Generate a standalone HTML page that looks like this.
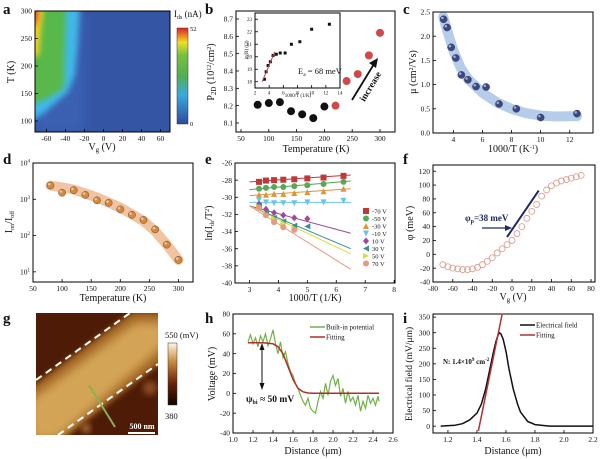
<!DOCTYPE html>
<html><head><meta charset="utf-8"><style>
html,body{margin:0;padding:0;background:#fff;}
svg{display:block;font-family:"Liberation Serif",serif;}
</style></head><body>
<svg id="fig" width="600" height="459" viewBox="0 0 600 459" xmlns="http://www.w3.org/2000/svg">
<defs>
<filter id="blur3" x="-20%" y="-20%" width="140%" height="140%"><feGaussianBlur stdDeviation="3"/></filter>
<filter id="blur5" x="-20%" y="-20%" width="140%" height="140%"><feGaussianBlur stdDeviation="5"/></filter>
<linearGradient id="jet" x1="0" y1="1" x2="0" y2="0">
<stop offset="0" stop-color="#2c4aa0"/><stop offset="0.3" stop-color="#3aa8e0"/><stop offset="0.5" stop-color="#50b050"/><stop offset="0.72" stop-color="#78c040"/><stop offset="0.85" stop-color="#f0e020"/><stop offset="1" stop-color="#e02020"/>
</linearGradient>
<linearGradient id="copper" x1="0" y1="1" x2="0" y2="0">
<stop offset="0" stop-color="#100400"/><stop offset="0.35" stop-color="#6a2008"/><stop offset="0.7" stop-color="#c88a40"/><stop offset="1" stop-color="#fff8e0"/>
</linearGradient>
<clipPath id="clipA"><rect x="35" y="11" width="135" height="121"/></clipPath>
<clipPath id="clipG"><rect x="36" y="313" width="122" height="122"/></clipPath>
</defs>
</svg>
<script>
// ---- data ----
const bTemp=[80,100,120,140,160,180,200];
const bP=[8.205,8.215,8.22,8.168,8.15,8.128,8.195];
const bTempHi=[220,240,260,280,300];
const bPHi=[8.2,8.342,8.382,8.49,8.62];
const insetX=[3.33,3.57,3.85,4.17,4.55,5,5.56,6.25,7.14,8.33,10,12.5];
const insetLnR=[18.2,18.8,19.3,19.6,20.1,20.2,20.3,20.3,21,21.2,22.2,22.6];
const insetFitX=[3,4.8];
const insetFitY=[18.0,20.4];
const cX=[3.33,3.57,3.85,4.17,4.55,5,5.56,6.25,7.14,8.33,10,12.5];
const cMu=[2.35,2.18,1.77,1.55,1.2,1.1,0.96,0.95,0.6,0.5,0.32,0.4];
const cFitX=[3.3,3.6,4,4.5,5,6,7,8,9,10,11,12.5];
const cFitY=[2.4,2.1,1.7,1.35,1.12,0.83,0.63,0.5,0.41,0.36,0.34,0.35];
const dTemp=[80,100,120,140,160,180,200,220,240,260,280,300];
const dLogRatio=[3.38,3.18,3.25,3.12,2.97,2.9,2.72,2.57,2.43,2.17,1.75,1.33];
const dFitT=[80,120,160,200,240,260,280,300];
const dFitLog=[3.38,3.27,3.05,2.77,2.4,2.12,1.75,1.33];
const eX=[3.33,3.57,3.85,4.17,4.55,5,5.56,6.25];
const eLabels=['-70 V','-50 V','-30 V','-10 V','10 V','30 V','50 V','70 V'];
const eY=[
[-28.2,-28.05,-28.0,-27.95,-27.9,-27.8,-27.7,-27.5],
[-29,-28.9,-28.8,-28.8,-28.7,-28.6,-28.45,-28.2],
[-29.7,-29.7,-29.6,-29.6,-29.5,-29.4,-29.3,-29.0],
[-30.3,-30.6,-30.7,-30.7,-30.7,-30.6,-30.6,-30.4],
[-30.8,-31.4,-31.8,-32.1,-32.4,-32.5],
[-31,-31.8,-32.4,-32.8,-33.3,-33.4],
[-31.1,-32,-32.6,-33.2,-33.6],
[-31.2,-32.1,-32.9,-33.5,-33.8]];
const eFitStart=[-28.2,-29.1,-29.8,-30.6,-31,-31,-31,-31];
const eFitEnd=[-27.4,-28.1,-29.0,-30.6,-34.2,-36,-36.6,-38.4];
const fV=[-70,-65,-60,-55,-50,-45,-40,-35,-30,-25,-20,-15,-10,-5,0,5,10,15,20,25,30,35,40,45,50,55,60,65,70];
const fPhi=[-15,-18,-20,-21,-22,-22,-21,-19,-15,-10,-5,2,8,14,20,30,40,52,62,72,84,93,99,103,106,108,110,112,114];
const hX=[1.15,1.175,1.2,1.225,1.25,1.275,1.3,1.325,1.35,1.375,1.4,1.425,1.45,1.475,1.5,1.525,1.55,1.575,1.6,1.625,1.65,1.675,1.7,1.725,1.75,1.775,1.8,1.825,1.85,1.875,1.9,1.925,1.95,1.975,2.0,2.025,2.05,2.075,2.1,2.125,2.15,2.175,2.2,2.225,2.25,2.275,2.3,2.325,2.35,2.375,2.4,2.425,2.45,2.46];
const hV=[52,59,50,56,47,58,52,60,48,55,64,50,40,52,36,42,30,22,18,10,5,-2,-8,-12,-5,-15,-18,-20,-8,2,-5,10,-2,12,18,8,15,-3,5,-10,2,-8,-4,-12,-2,-18,-8,-15,-2,-10,-5,-12,-3,-8];
const hFitX=[1.15,1.3,1.4,1.45,1.5,1.55,1.6,1.65,1.7,1.75,1.8,2.46];
const hFitV=[51,51,50,47,40,27,14,5,1.5,0.3,0,0];
const iX=[1.15,1.25,1.3,1.35,1.4,1.43,1.46,1.49,1.51,1.53,1.545,1.555,1.565,1.58,1.6,1.62,1.65,1.68,1.7,1.75,1.8,1.9,2.2];
const iE=[0,3,8,20,42,70,120,185,230,270,292,300,296,280,240,185,120,70,45,15,5,0,0];
const iFitX=[1.41,1.575];
const iFitE=[-15,362];

const NS='http://www.w3.org/2000/svg';
const svg=document.getElementById('fig');
function mk(tag,attrs,name,parent){
  const e=document.createElementNS(NS,tag);
  for(const k in attrs) e.setAttribute(k,attrs[k]);
  
  
  (parent||svg).appendChild(e);
  return e;
}
function txt(x,y,s,size,anchor,name,extra){
  const a=Object.assign({x:x,y:y,'font-size':size,'text-anchor':anchor||'middle',fill:'#111'},extra||{});
  const e=mk('text',a,name);
  e.innerHTML=s;
  return e;
}
function axes(o){
  const sx=v=>o.x0+(v-o.xr[0])/(o.xr[1]-o.xr[0])*(o.x1-o.x0);
  const sy=v=>o.y1-(v-o.yr[0])/(o.yr[1]-o.yr[0])*(o.y1-o.y0);
  const fs=o.fs||7.5;
  o.xt.forEach(t=>{
    const x=sx(t);
    mk('line',{x1:x,x2:x,y1:o.y1,y2:o.y1-3,stroke:'#000','stroke-width':0.8},o.name+'-x-tick');
    txt(x,o.y1+fs+1.5,o.xl?o.xl(t):String(t),fs,'middle',o.name+'-x-tick-label');
  });
  o.yt.forEach(t=>{
    const y=sy(t);
    mk('line',{x1:o.x0,x2:o.x0+3,y1:y,y2:y,stroke:'#000','stroke-width':0.8},o.name+'-y-tick');
    txt(o.x0-3,y+fs*0.35,o.yl?o.yl(t):String(t),fs,'end',o.name+'-y-tick-label');
  });
  return {sx,sy};
}
function frame(o){mk('rect',{x:o.x0,y:o.y0,width:o.x1-o.x0,height:o.y1-o.y0,fill:'none',stroke:'#000','stroke-width':1},o.name+'-frame');}
function poly(xs,ys,sx,sy){return xs.map((x,i)=>sx(x).toFixed(1)+','+sy(ys[i]).toFixed(1)).join(' ');}
function ball(x,y,r,c,name){
  mk('circle',{cx:x,cy:y,r:r,fill:c,stroke:'#333','stroke-width':0.4},name);
  mk('circle',{cx:x-r*0.35,cy:y-r*0.35,r:r*0.35,fill:'#fff',opacity:0.55},name+'-highlight');
}
function label(x,y,s){txt(x,y,s,15,'start','panel-label-'+s,{'font-weight':'bold'});}

// ---- panel a ----
(function(){
  const o={name:'panel-a',x0:35,y0:11,x1:170,y1:132,xr:[-72,70],yr:[80,300],xt:[-60,-40,-20,0,20,40,60],yt:[100,150,200,250,300]};
  const g=mk('g',{'clip-path':'url(#clipA)'},'heatmap');
  mk('rect',{x:35,y:11,width:135,height:121,fill:'#3454a4'},'heatmap-bg',g);
  mk('rect',{x:35,y:11,width:50,height:121,fill:'#3a60b2',filter:'url(#blur5)'},'heatmap-glow',g);
  mk('polygon',{points:'28,4 80,4 78,40 75,75 68,92 45,112 28,124',fill:'#40b8e8',filter:'url(#blur3)'},'heatmap-cyan',g);
  mk('polygon',{points:'28,4 66,4 65,40 64,88 48,98 28,106',fill:'#58b848',filter:'url(#blur3)'},'heatmap-green',g);
  mk('polygon',{points:'28,4 44,4 41,30 39,55 28,60',fill:'#f0d020',filter:'url(#blur3)'},'heatmap-yellow',g);
  mk('polygon',{points:'28,4 39,4 37,22 28,30',fill:'#e84020',filter:'url(#blur3)'},'heatmap-red',g);
  axes(o);frame(o);
  txt(102,150,'V<tspan font-size="7" dy="2">g</tspan><tspan dy="-2"> (V)</tspan>',10,'middle','panel-a-x-title');
  txt(0,0,'T (K)',10,'middle','panel-a-y-title',{transform:'translate(14,72) rotate(-90)'});
  mk('rect',{x:177,y:28,width:11,height:96,fill:'url(#jet)',stroke:'#333','stroke-width':0.5},'colorbar-a');
  txt(190,31,'52',6.5,'start','colorbar-a-max');
  txt(190,126,'0',6.5,'start','colorbar-a-min');
  txt(174,17,'I<tspan font-size="6" dy="2">ds</tspan><tspan dy="-2"> (nA)</tspan>',9,'start','colorbar-a-title');
  label(3,14,'a');
})();

// ---- panel b ----
(function(){
  const o={name:'panel-b',x0:236,y0:11,x1:395,y1:132,xr:[41,327],yr:[8.048,8.746],xt:[50,100,150,200,250,300],yt:[8.1,8.2,8.3,8.4,8.5,8.6,8.7],yl:t=>t.toFixed(1)};
  const a=axes(o);frame(o);
  bTemp.forEach((t,i)=>mk('circle',{cx:a.sx(t),cy:a.sy(bP[i]),r:4,fill:'#111'},'b-point-low'));
  bTempHi.forEach((t,i)=>mk('circle',{cx:a.sx(t),cy:a.sy(bPHi[i]),r:4,fill:'#d04848'},'b-point-high'));
  mk('line',{x1:352,y1:100,x2:374,y2:64,stroke:'#111','stroke-width':1.8},'increase-arrow');
  mk('polygon',{points:'378,58 369,63 376,68',fill:'#111'},'increase-arrow-head');
  txt(0,0,'increase',9.5,'middle','increase-label',{transform:'translate(373,88) rotate(-59)','font-weight':'bold'});
  txt(316,152,'Temperature (K)',10,'middle','panel-b-x-title');
  txt(0,0,'P<tspan font-size="7" dy="2">2D</tspan><tspan dy="-2"> (10</tspan><tspan font-size="6" dy="-3">12</tspan><tspan dy="3">/cm</tspan><tspan font-size="6" dy="-3">2</tspan><tspan dy="3">)</tspan>',10,'middle','panel-b-y-title',{transform:'translate(214,72) rotate(-90)'});
  const ib={name:'inset-b',x0:255,y0:13,x1:340,y1:88,xr:[2,14],yr:[17.5,23.5],xt:[2,4,6,8,10,12,14],yt:[18,19,20,21,22,23],fs:5};
  mk('rect',{x:255,y:13,width:85,height:75,fill:'#fff'},'inset-bg');
  const s=axes(ib);frame(ib);
  insetX.forEach((x,i)=>mk('rect',{x:s.sx(x)-1.5,y:s.sy(insetLnR[i])-1.5,width:3,height:3,fill:'#111'},'inset-point'));
  mk('polyline',{points:poly(insetFitX,insetFitY,s.sx,s.sy),stroke:'#c04050','stroke-width':1,fill:'none'},'inset-fit-line');
  txt(298,74,'E<tspan font-size="5.5" dy="2">a</tspan><tspan dy="-2"> = 68 meV</tspan>',8.5,'start','activation-energy-label');
  txt(298,97,'1000/T (1/K)',5,'middle','inset-x-title');
  txt(0,0,'ln(R) (Ω)',5,'middle','inset-y-title',{transform:'translate(248,50) rotate(-90)'});
  label(205,14,'b');
})();

// ---- panel c ----
(function(){
  const o={name:'panel-c',x0:433,y0:12,x1:593,y1:133,xr:[2.6,13.6],yr:[0,2.5],xt:[4,6,8,10,12],yt:[0,0.5,1,1.5,2,2.5],yl:t=>t.toFixed(1)};
  const a=axes(o);
  mk('polyline',{points:poly(cFitX,cFitY,a.sx,a.sy),stroke:'#a8c4e4','stroke-width':10,fill:'none','stroke-linecap':'round','stroke-linejoin':'round',opacity:0.85},'c-fit-band');
  cX.forEach((x,i)=>ball(a.sx(x),a.sy(cMu[i]),3.6,'#38488a','c-point'));
  frame(o);
  txt(513,152,'1000/T (K<tspan font-size="6" dy="-3">-1</tspan><tspan dy="3">)</tspan>',10,'middle','panel-c-x-title');
  txt(0,0,'μ (cm<tspan font-size="6" dy="-3">2</tspan><tspan dy="3">/Vs)</tspan>',10,'middle','panel-c-y-title',{transform:'translate(416,72) rotate(-90)'});
  label(403,14,'c');
})();

// ---- panel d ----
(function(){
  const o={name:'panel-d',x0:33,y0:163,x1:193,y1:282,xr:[50,325],yr:[0.72,4],xt:[50,100,150,200,250,300],yt:[1,2,3,4],yl:t=>'10<tspan font-size="5" dy="-3">'+t+'</tspan>'};
  const a=axes(o);
  mk('polyline',{points:poly(dFitT,dFitLog,a.sx,a.sy),stroke:'#f0b890','stroke-width':10,fill:'none','stroke-linecap':'round','stroke-linejoin':'round',opacity:0.85},'d-fit-band');
  dTemp.forEach((t,i)=>ball(a.sx(t),a.sy(dLogRatio[i]),3.6,'#d88838','d-point'));
  frame(o);
  txt(113,301,'Temperature (K)',10,'middle','panel-d-x-title');
  txt(0,0,'I<tspan font-size="6" dy="2">on</tspan><tspan dy="-2">/I</tspan><tspan font-size="6" dy="2">off</tspan>',10,'middle','panel-d-y-title',{transform:'translate(12,222) rotate(-90)'});
  label(3,164,'d');
})();

// ---- panel e ----
(function(){
  const o={name:'panel-e',x0:235,y0:163,x1:395,y1:283,xr:[2.5,8.03],yr:[-40,-26],xt:[3,4,5,6,7,8],yt:[-40,-38,-36,-34,-32,-30,-28,-26]};
  const a=axes(o);frame(o);
  const cols=['#c03838','#58a858','#e09438','#68c4ec','#a04898','#3a8c98','#d8e030','#e89888'];
  const shp=['sq','ci','tu','td','di','tl','tr','ci'];
  function marker(x,y,k,c,name){
    const r=3;let p;
    if(k==='sq') return mk('rect',{x:x-r,y:y-r,width:2*r,height:2*r,fill:c},name);
    if(k==='ci') return mk('circle',{cx:x,cy:y,r:r,fill:c},name);
    if(k==='tu') p=[[x,y-r],[x+r,y+r],[x-r,y+r]];
    if(k==='td') p=[[x,y+r],[x+r,y-r],[x-r,y-r]];
    if(k==='di') p=[[x,y-r-0.5],[x+r,y],[x,y+r+0.5],[x-r,y]];
    if(k==='tl') p=[[x-r,y],[x+r,y-r],[x+r,y+r]];
    if(k==='tr') p=[[x+r,y],[x-r,y-r],[x-r,y+r]];
    return mk('polygon',{points:p.map(q=>q.join(',')).join(' '),fill:c},name);
  }
  eY.forEach((ys,s)=>{
    mk('line',{x1:a.sx(3),y1:a.sy(eFitStart[s]),x2:a.sx(6.5),y2:a.sy(eFitEnd[s]),stroke:cols[s],'stroke-width':1},'e-fit-line-'+s);
    ys.forEach((y,i)=>marker(a.sx(eX[i]),a.sy(y),shp[s],cols[s],'e-point-'+s));
    const ly=211+s*7.5;
    marker(366,ly,shp[s],cols[s],'e-legend-marker');
    txt(372,ly+2.5,eLabels[s],6.5,'start','e-legend-label');
  });
  txt(315,301,'1000/T (1/K)',10,'middle','panel-e-x-title');
  txt(0,0,'ln(I<tspan font-size="6" dy="2">ds</tspan><tspan dy="-2">/T</tspan><tspan font-size="6" dy="-3">2</tspan><tspan dy="3">)</tspan>',10,'middle','panel-e-y-title',{transform:'translate(212,223) rotate(-90)'});
  label(205,164,'e');
})();

// ---- panel f ----
(function(){
  const o={name:'panel-f',x0:433,y0:165,x1:595,y1:282,xr:[-80,84],yr:[-40,129],xt:[-80,-60,-40,-20,0,20,40,60,80],yt:[-40,-20,0,20,40,60,80,100,120]};
  const a=axes(o);frame(o);
  fV.forEach((v,i)=>mk('circle',{cx:a.sx(v),cy:a.sy(fPhi[i]),r:3,fill:'none',stroke:'#d89888','stroke-width':0.8},'f-point'));
  mk('line',{x1:a.sx(-5),y1:a.sy(25),x2:a.sx(27),y2:a.sy(92),stroke:'#1e2a60','stroke-width':2},'f-fit-line');
  mk('line',{x1:482,y1:228,x2:506,y2:228,stroke:'#1e2a60','stroke-width':1.3},'f-arrow');
  mk('polygon',{points:'512,228 505,225 505,231',fill:'#1e2a60'},'f-arrow-head');
  txt(465,221,'φ<tspan font-size="6" dy="2">p</tspan><tspan dy="-2">=38 meV</tspan>',9,'start','phi-p-label',{fill:'#1e2a60','font-weight':'bold'});
  txt(513,300,'V<tspan font-size="7" dy="2">g</tspan><tspan dy="-2"> (V)</tspan>',10,'middle','panel-f-x-title');
  txt(0,0,'φ (meV)',10,'middle','panel-f-y-title',{transform:'translate(413,223) rotate(-90)'});
  label(403,164,'f');
})();

// ---- panel g ----
(function(){
  const g=mk('g',{'clip-path':'url(#clipG)'},'kpfm-image');
  mk('rect',{x:36,y:313,width:122,height:122,fill:'#4e1c06'},'kpfm-bg',g);
  mk('polygon',{points:'30,388 132,312 165,312 165,360 60,440 30,440',fill:'#a06424',filter:'url(#blur3)'},'kpfm-band-outer',g);
  mk('polygon',{points:'30,400 135,322 165,322 165,345 56,440 30,440',fill:'#d4a456',filter:'url(#blur5)'},'kpfm-band-inner',g);
  mk('circle',{cx:150,cy:388,r:7,fill:'#8a4a20',filter:'url(#blur3)'},'kpfm-spot',g);
  mk('circle',{cx:86,cy:428,r:5,fill:'#a06030',filter:'url(#blur3)'},'kpfm-spot',g);
  mk('line',{x1:36,y1:380,x2:130,y2:313,stroke:'#fff','stroke-width':2,'stroke-dasharray':'7,5'},'boundary-dash-upper');
  mk('line',{x1:58,y1:435,x2:158,y2:364,stroke:'#fff','stroke-width':2,'stroke-dasharray':'7,5'},'boundary-dash-lower');
  mk('line',{x1:89,y1:385,x2:115,y2:427,stroke:'#8ab050','stroke-width':2},'line-profile');
  mk('line',{x1:128,y1:433,x2:155,y2:433,stroke:'#fff','stroke-width':2},'scale-bar');
  txt(142,429,'500 nm',8,'middle','scale-bar-label',{fill:'#fff','font-weight':'bold'});
  mk('rect',{x:168,y:343,width:9,height:62,fill:'url(#copper)',stroke:'#333','stroke-width':0.5},'colorbar-g');
  txt(165,338,'550 (mV)',8.5,'start','colorbar-g-max');
  txt(165,419,'380',8.5,'start','colorbar-g-min');
  label(3,323,'g');
})();

// ---- panel h ----
(function(){
  const o={name:'panel-h',x0:233,y0:314,x1:393,y1:433,xr:[1.0,2.6],yr:[-40,80],xt:[1.0,1.2,1.4,1.6,1.8,2.0,2.2,2.4,2.6],yt:[-40,-20,0,20,40,60,80],xl:t=>t.toFixed(1)};
  const a=axes(o);frame(o);
  mk('polyline',{points:poly(hX,hV,a.sx,a.sy),stroke:'#70b048','stroke-width':1.2,fill:'none'},'built-in-potential-line');
  mk('polyline',{points:poly(hFitX,hFitV,a.sx,a.sy),stroke:'#b03028','stroke-width':1.5,fill:'none','stroke-linejoin':'round'},'h-fit-line');
  mk('line',{x1:262,y1:348,x2:262,y2:384,stroke:'#111','stroke-width':1},'psi-arrow');
  mk('polygon',{points:'262,343 259.5,350 264.5,350',fill:'#111'},'psi-arrow-head-up');
  mk('polygon',{points:'262,390 259.5,383 264.5,383',fill:'#111'},'psi-arrow-head-down');
  txt(246,402,'ψ<tspan font-size="6" dy="2">bi</tspan><tspan dy="-2"> ≈ 50 mV</tspan>',9.5,'start','psi-bi-label',{'font-weight':'bold'});
  mk('line',{x1:310,y1:327,x2:325,y2:327,stroke:'#70b048','stroke-width':1.5},'h-legend-line-1');
  txt(326,329.5,'Built-in potential',7,'start','h-legend-label-1');
  mk('line',{x1:310,y1:337,x2:325,y2:337,stroke:'#b03028','stroke-width':1.5},'h-legend-line-2');
  txt(326,339.5,'Fitting',7,'start','h-legend-label-2');
  txt(313,454,'Distance (μm)',10,'middle','panel-h-x-title');
  txt(0,0,'Voltage (mV)',10,'middle','panel-h-y-title',{transform:'translate(215,374) rotate(-90)'});
  label(205,323,'h');
})();

// ---- panel i ----
(function(){
  const o={name:'panel-i',x0:433,y0:314,x1:593,y1:433,xr:[1.097,2.2],yr:[-22,360],xt:[1.2,1.4,1.6,1.8,2.0,2.2],yt:[0,50,100,150,200,250,300,350],xl:t=>t.toFixed(1)};
  const a=axes(o);frame(o);
  mk('polyline',{points:poly(iX,iE,a.sx,a.sy),stroke:'#111','stroke-width':1.5,fill:'none','stroke-linejoin':'round'},'electrical-field-line');
  mk('polyline',{points:poly(iFitX,iFitE,a.sx,a.sy),stroke:'#b03038','stroke-width':1.5,fill:'none'},'i-fit-line');
  txt(443,364,'N: 1.4×10<tspan font-size="5" dy="-3">9</tspan><tspan dy="3"> cm</tspan><tspan font-size="5" dy="-3">-2</tspan>',7,'start','doping-label',{'font-weight':'bold'});
  mk('line',{x1:520,y1:325,x2:535,y2:325,stroke:'#111','stroke-width':1.5},'i-legend-line-1');
  txt(536,327.5,'Electrical field',7,'start','i-legend-label-1');
  mk('line',{x1:520,y1:335,x2:535,y2:335,stroke:'#b03038','stroke-width':1.5},'i-legend-line-2');
  txt(536,337.5,'Fitting',7,'start','i-legend-label-2');
  txt(513,454,'Distance (μm)',10,'middle','panel-i-x-title');
  txt(0,0,'Electrical field (mV/μm)',9.5,'middle','panel-i-y-title',{transform:'translate(412,374) rotate(-90)'});
  label(403,323,'i');
})();
</script>
</body></html>
